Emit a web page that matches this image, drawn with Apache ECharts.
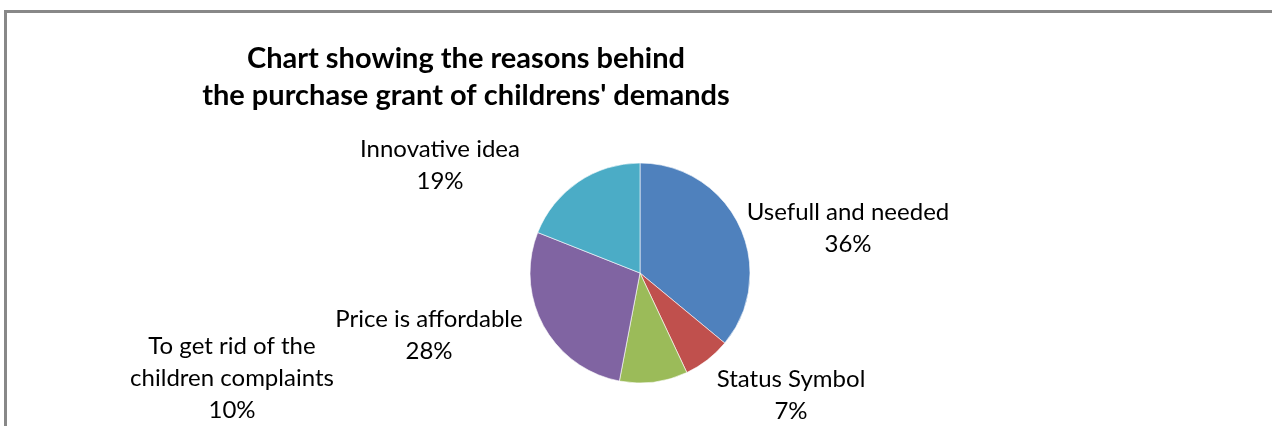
<!DOCTYPE html>
<html>
<head>
<meta charset="utf-8">
<script src="https://cdn.jsdelivr.net/npm/echarts@6/dist/echarts.min.js"></script>
<style>
  html, body { margin: 0; padding: 0; background: #fff; }
  #chart { width: 1272px; height: 426px; }
</style>
</head>
<body>
<div id="chart"></div>
<script>
// Reasons and their shares (percent), clockwise from 12 o'clock
const reasons = [
  'Usefull and needed',
  'Status Symbol',
  'To get rid of the\nchildren complaints',
  'Price is affordable',
  'Innovative idea'
];
const shares = [36, 7, 10, 28, 19];
const sliceColors = ['#4F81BD', '#C0504D', '#9BBB59', '#8064A2', '#4BACC6'];

// Where each data label block is centred
const labelSpots = [
  [848, 228],
  [791, 395],
  [232, 378],
  [429, 335],
  [440, 165]
];

const chart = echarts.init(document.getElementById('chart'), null, { renderer: 'canvas' });

chart.setOption({
  animation: false,
  backgroundColor: '#ffffff',
  title: {
    text: 'Chart showing the reasons behind\nthe purchase grant of childrens\' demands',
    left: 461,
    top: 35,
    textAlign: 'center',
    textStyle: {
      fontFamily: 'Lato',
      fontSize: 29,
      fontWeight: 'bold',
      color: '#000',
      lineHeight: 37
    }
  },
  graphic: [{
    type: 'rect',
    shape: { x: 5.5, y: 11.5, width: 1400, height: 600 },
    style: { fill: 'none', stroke: '#888888', lineWidth: 3 },
    silent: true
  }],
  series: [{
    type: 'pie',
    center: [640, 273],
    radius: 110,
    startAngle: 90,
    clockwise: true,
    data: reasons.map((name, i) => ({
      name: name,
      value: shares[i],
      itemStyle: { color: sliceColors[i] }
    })),
    itemStyle: { borderColor: '#ffffff', borderWidth: 0.6 },
    label: {
      show: true,
      formatter: '{b}\n{d}%',
      fontFamily: 'Lato',
      fontSize: 24,
      lineHeight: 32,
      color: '#000',
      align: 'center'
    },
    labelLine: { show: false },
    labelLayout: function (p) {
      const s = labelSpots[p.dataIndex];
      return { x: s[0], y: s[1], align: 'center', verticalAlign: 'middle' };
    }
  }]
});
</script>
</body>
</html>
